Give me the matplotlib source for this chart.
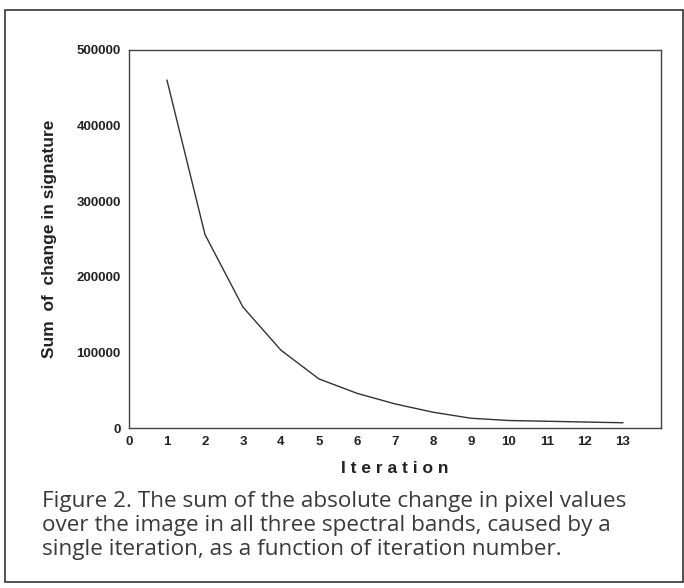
import numpy as np
import matplotlib.pyplot as plt
from matplotlib.patches import Rectangle

iteration = [1, 2, 3, 4, 5, 6, 7, 8, 9, 10, 11, 12, 13]
change_sum = [460000, 256000, 160000, 103000, 65000, 46000, 32000, 21000,
              13000, 10000, 9000, 8000, 7000]

x_ticks = list(range(0, 14))
y_ticks = [0, 100000, 200000, 300000, 400000, 500000]

caption = ("Figure 2. The sum of the absolute change in pixel values\n"
           "over the image in all three spectral bands, caused by a\n"
           "single iteration, as a function of iteration number.")


def main():
    fig = plt.figure(figsize=(6.84, 5.88), dpi=100)
    ax = fig.add_axes([0.1886, 0.272, 0.7774, 0.643])

    ax.plot(iteration, change_sum, color='#333333', linewidth=1.0)
    ax.set_xlim(0, 14)
    ax.set_ylim(0, 500000)
    ax.set_xticks(x_ticks)
    ax.set_yticks(y_ticks)
    ax.tick_params(length=0, pad=6)
    for lab in ax.get_xticklabels() + ax.get_yticklabels():
        lab.set_fontfamily('Liberation Sans')
        lab.set_fontweight('bold')
        lab.set_fontsize(9.5)
        lab.set_color('#222222')
    for sp in ax.spines.values():
        sp.set_color('#444444')
        sp.set_linewidth(1.0)

    ax.set_ylabel('Sum  of  change in signature', fontsize=12.5,
                  family='Liberation Sans', fontweight='bold',
                  color='#222222', labelpad=14)
    ax.set_xlabel('I t e r a t i o n', fontsize=12.5, family='Liberation Sans',
                  fontweight='bold', color='#222222', labelpad=9)

    fig.text(42 / 684, 1 - 491 / 588, caption, fontsize=16.2, family='Open Sans',
             color='#3a3a3a', va='top', ha='left', linespacing=1.2)

    # frame around the figure
    fig.patches.append(Rectangle((5 / 684, 6 / 588), 678 / 684, 572 / 588,
                                 transform=fig.transFigure, fill=False,
                                 edgecolor='#333333', linewidth=1.2))
    fig.savefig('out.png', dpi=100)


if __name__ == '__main__':
    main()
